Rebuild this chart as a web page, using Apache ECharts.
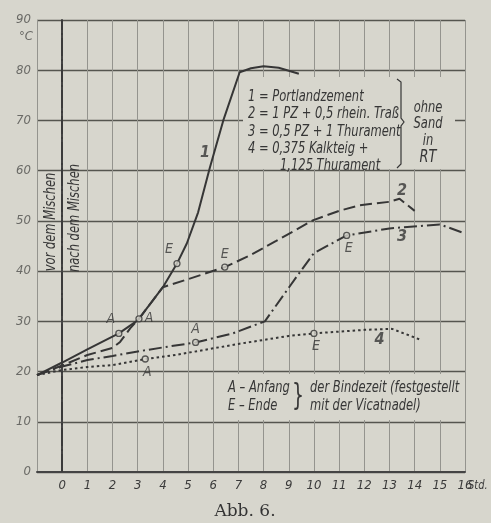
<!DOCTYPE html>
<html><head><meta charset="utf-8">
<script src="https://cdn.jsdelivr.net/npm/echarts@6/dist/echarts.min.js"></script>
<style>html,body{margin:0;padding:0;background:#d7d6cd}#c{width:491px;height:523px}</style>
</head><body><div id="c"></div>
<script>
// ---- data (hours after mixing, temperature °C) ----
const curve1 = [[-1,19.3],[0,21.8],[1,24.4],[2.25,27.6],[3,30.2],[4,36.8],[4.56,41.5],[4.95,45.5],[5.4,51.7],[5.87,60.7],[6.4,70],[7.05,79.6],[7.5,80.4],[8,80.8],[8.6,80.5],[9.4,79.3]];
const curve2 = [[-1,19.3],[0,21.2],[1,23.3],[2,24.7],[2.3,25.9],[2.7,28.6],[3.05,30.5],[4,36.8],[5,38.4],[6.46,40.8],[7.45,43.1],[8.5,46],[9.95,50.1],[11,52],[11.8,53.1],[13,53.8],[13.4,54.4],[14,52]];
const curve3 = [[-1,19.3],[0,21],[1,22.3],[2,23.1],[3,24],[4,24.8],[5.3,25.8],[6.78,27.6],[8.05,30],[9.3,38.8],[10,43.6],[11.3,47.1],[13,48.5],[15,49.3],[16,47.5]];
const curve4 = [[-1,19.3],[0,20.3],[1,20.9],[2,21.3],[3.3,22.5],[4.5,23.3],[7,25.5],[9,27.1],[10,27.6],[12,28.3],[13.1,28.5],[14.2,26.4]];
const pointsA = [[2.25,27.6],[3.05,30.5],[5.3,25.8],[3.3,22.5]];
const pointsE = [[4.56,41.5],[6.46,40.8],[11.3,47.1],[10,27.6]];
const posA = ['topLeft','right','top','bottom'];
const posE = ['topLeft','top','bottom','bottom'];
const curveNumbers = [[5.67,63.5,'1'],[13.5,56,'2'],[13.5,46.8,'3'],[12.6,26.3,'4']];
const yTicks = [0,10,20,30,40,50,60,70,80,90];
const xTicks = [0,1,2,3,4,5,6,7,8,9,10,11,12,13,14,15,16];
const legendLines = ['1 = Portlandzement','2 = 1 PZ + 0,5 rhein. Traß','3 = 0,5 PZ + 1 Thurament','4 = 0,375 Kalkteig +','1,125 Thurament'];
const sideLines = ['ohne','Sand','in','RT'];

const FONT = "'Liberation Sans Narrow','DejaVu Sans Condensed','Roboto Condensed',sans-serif";
const INK = '#363636';
const SX = 0.8;
const chart = echarts.init(document.getElementById('c'), null, {renderer:'canvas'});

function offs(p){
  return {topLeft:[-8,-14],right:[10,0],top:[0,-13],bottom:[2,13]}[p];
}
function pointSeries(pts, letter, pos){
  return {
    type:'scatter', z:5, symbol:'circle', symbolSize:6,
    itemStyle:{color:'#d7d6cd', borderColor:INK, borderWidth:1.3},
    data: pts.map((p,i)=>({value:p, label:{show:true, formatter:letter, position:'inside', offset:offs(pos[i]),
      fontFamily:FONT, fontStyle:'italic', fontSize:14, color:INK}})),
    silent:true
  };
}
function txt(t, x, y, size, opts){
  return Object.assign({type:'text', z:6, x:x, y:y, scaleX:SX,
    style:{text:t, font:`italic ${size}px ${FONT}`, fill:INK, align:'left', verticalAlign:'middle'}}, opts||{});
}
const lineBase = {type:'line', symbol:'none', smooth:false, z:3, silent:true};

chart.setOption({
  backgroundColor:'#d7d6cd',
  animation:false,
  grid:{left:37, top:20, right:26, bottom:51, containLabel:false},
  xAxis:{type:'value', min:-1, max:16, interval:1,
    axisLine:{show:true, onZero:false, lineStyle:{color:'#444', width:2}},
    axisTick:{show:false},
    axisLabel:{margin:7, fontFamily:FONT, fontStyle:'italic', fontSize:13, color:'#3a3a3a',
      formatter:v=> xTicks.indexOf(v)>=0 ? String(v) : ''},
    splitLine:{show:true, lineStyle:{color:'#94948e', width:1}}
  },
  yAxis:{type:'value', min:0, max:90, interval:10,
    axisLine:{show:true, lineStyle:{color:'#444', width:2}},
    axisTick:{show:false},
    axisLabel:{margin:6, fontFamily:FONT, fontStyle:'italic', fontSize:13, color:'#6a6a66',
      formatter:v=> yTicks.indexOf(v)>=0 ? String(v) : ''},
    splitLine:{show:true, lineStyle:{color:'#55554f', width:1.3}}
  },
  graphic:[
    {type:'rect', z:1, shape:{x:243,y:77,width:212,height:92}, style:{fill:'#d7d6cd'}},
    {type:'rect', z:1, shape:{x:222,y:374,width:242,height:46}, style:{fill:'#d7d6cd'}},
    ...legendLines.map((t,i)=>txt(t, i===4?280:248, 97+i*17.3, 16)),
    ...sideLines.map((t,i)=>({type:'text', z:6, x:428, y:108+i*16.3, scaleX:SX,
      style:{text:t, font:`italic ${i===3?18:16}px ${FONT}`, fill:INK, align:'center', verticalAlign:'middle'}})),
    {type:'polyline', z:6, shape:{points:[[397,79],[401,82],[401,118],[404,122],[401,126],[401,164],[397,168]]}, style:{stroke:INK, lineWidth:1.2, fill:null}},
    txt('A – Anfang', 228, 388, 16),
    txt('E – Ende', 228, 406, 16),
    {type:'text', z:6, x:292, y:397, scaleX:0.7, style:{text:'}', font:`30px ${FONT}`, fill:INK, verticalAlign:'middle'}},
    txt('der Bindezeit (festgestellt', 310, 388, 16),
    txt('mit der Vicatnadel)', 310, 406, 16),
    {type:'text', z:6, x:51, y:222, rotation:Math.PI/2, scaleX:SX, style:{text:'vor dem Mischen', font:`italic 16px ${FONT}`, fill:INK, align:'center', verticalAlign:'middle'}},
    {type:'text', z:6, x:75, y:218, rotation:Math.PI/2, scaleX:SX, style:{text:'nach dem Mischen', font:`italic 16px ${FONT}`, fill:INK, align:'center', verticalAlign:'middle'}},
    {type:'text', z:6, x:33, y:37, style:{text:'°C', font:`italic 13px ${FONT}`, fill:'#6a6a66', align:'right', verticalAlign:'middle'}},
    {type:'text', z:6, x:468, y:486, scaleX:0.85, style:{text:'Std.', font:`italic 13px ${FONT}`, fill:'#3a3a3a', align:'left', verticalAlign:'middle'}},
    {type:'text', z:6, x:245, y:512, style:{text:'Abb. 6.', font:`17px 'DejaVu Serif','Liberation Serif',serif`, fill:'#333', align:'center', verticalAlign:'middle'}}
  ],
  series:[
    Object.assign({}, lineBase, {name:'1', data:curve1, lineStyle:{color:INK, width:2},
      markLine:{silent:true, symbol:'none', label:{show:false}, data:[{xAxis:0}], lineStyle:{color:'#3a3a3a', width:1.6, type:[18,3,2,3]}}}),
    Object.assign({}, lineBase, {name:'2', data:curve2, lineStyle:{color:INK, width:2, type:[12,5]}}),
    Object.assign({}, lineBase, {name:'3', data:curve3, lineStyle:{color:INK, width:2, type:[13,4,2,4]}}),
    Object.assign({}, lineBase, {name:'4', data:curve4, lineStyle:{color:INK, width:2, type:[2.5,3]}}),
    pointSeries(pointsA,'A',posA),
    pointSeries(pointsE,'E',posE),
    {type:'scatter', z:5, symbolSize:0, silent:true,
      data:curveNumbers.map(c=>({value:[c[0],c[1]], label:{show:true, formatter:c[2], position:'inside',
        fontFamily:FONT, fontStyle:'italic', fontWeight:'bold', fontSize:16, color:INK}}))}
  ]
});
</script></body></html>
